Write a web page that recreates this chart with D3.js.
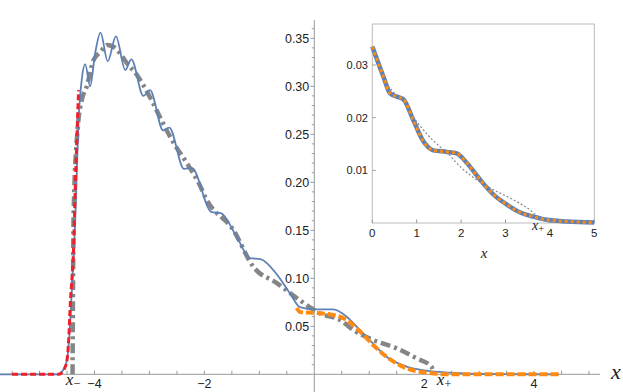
<!DOCTYPE html>
<html>
<head>
<meta charset="utf-8">
<script src="https://cdn.jsdelivr.net/npm/d3@7"></script>
<style>
  body { margin: 0; background: #fff; }
  text { font-family: "Liberation Sans", Arial, sans-serif; fill: #222; }
  .sym { font-family: "Liberation Serif", "DejaVu Serif", serif; font-style: italic; }
</style>
</head>
<body>
<div id="chart"></div>
<script>
// main plot: exact density (blue), mean-field (gray), edge asymptotics (red / orange)
const blueX = [-5.72, -4.68, -4.59, -4.50, -4.46, -4.41, -4.35, -4.29, -4.23, -4.17, -4.08, -3.99, -3.89,
  -3.76, -3.61, -3.44, -3.33, -3.11, -2.99, -2.75, -2.64, -2.37, -2.23, -1.87, -1.70, -1.41, -1.17,
  -0.98, -0.68, -0.44, -0.26, 0.0, 0.35, 0.59, 0.83, 1.07, 1.32, 1.68, 2.04, 2.47, 3.0, 4.45];
const blueY = [0, 0, 0.003, 0.015, 0.039, 0.091, 0.162, 0.265, 0.308, 0.323, 0.300, 0.334, 0.356,
  0.326, 0.352, 0.317, 0.328, 0.290, 0.296, 0.254, 0.257, 0.214, 0.215, 0.169, 0.168, 0.143, 0.121,
  0.120, 0.104, 0.084, 0.070, 0.0677, 0.0677, 0.060, 0.046, 0.032, 0.018, 0.008, 0.0038, 0.0017, 0.0003, 0];

const grayX = [-4.40, -4.39, -4.38, -4.30, -4.23, -4.14, -4.02, -3.89, -3.77, -3.65, -3.53, -3.41, -3.23,
  -3.11, -2.93, -2.81, -2.56, -2.32, -2.11, -1.96, -1.47, -1.11, -0.68, -0.26, 0.10, 0.47, 0.71, 1.07,
  1.50, 1.86, 2.13, 2.18];
const grayY = [0, 0.10, 0.168, 0.26, 0.286, 0.300, 0.327, 0.336, 0.343, 0.341, 0.334, 0.324, 0.312,
  0.301, 0.282, 0.268, 0.241, 0.220, 0.200, 0.182, 0.150, 0.112, 0.095, 0.077, 0.0635, 0.0566, 0.046,
  0.0357, 0.027, 0.0167, 0.008, 0];

const redX = [-5.50, -4.65, -4.56, -4.50, -4.47, -4.44, -4.38, -4.35, -4.32, -4.29];
const redY = [0, 0, 0.0045, 0.015, 0.036, 0.074, 0.133, 0.195, 0.2475, 0.296];

const orangeX = [-0.32, -0.26, 0.0, 0.35, 0.59, 0.83, 1.07, 1.32, 1.68, 2.04, 2.47, 4.50];
const orangeY = [0.069, 0.065, 0.064, 0.0618, 0.0566, 0.0448, 0.0305, 0.018, 0.0062, 0.0017, 0, 0];

const mainXTicks = [-4, -2, 2, 4];
const mainYTicks = [0.05, 0.10, 0.15, 0.20, 0.25, 0.30, 0.35];

// inset: right edge zoom
const insetX = [0, 0.25, 0.40, 0.55, 0.70, 0.92, 1.15, 1.37, 1.68, 1.90, 2.13, 2.43, 2.73, 3.03, 3.33,
  3.63, 3.93, 4.38, 5.0];
const insetY = [0.0335, 0.0278, 0.0246, 0.0240, 0.0235, 0.0196, 0.0155, 0.0138, 0.0135, 0.0132, 0.0114,
  0.0082, 0.0054, 0.0035, 0.0020, 0.0012, 0.0006, 0.0003, 0.0001];
const insetGrayX = [0, 0.30, 0.47, 0.70, 0.92, 1.22, 1.52, 1.70, 1.98, 2.35, 2.73, 3.18, 3.55, 3.74, 3.90,
  4.40, 5.0];
const insetGrayY = [0.033, 0.0268, 0.0249, 0.023, 0.0202, 0.017, 0.0145, 0.0132, 0.0107, 0.0082, 0.0063,
  0.0044, 0.0025, 0.0012, 0.0007, 0.0003, 0.0001];
const insetXTicks = [0, 1, 2, 3, 4, 5];
const insetYTicks = [0.01, 0.02, 0.03];

const width = 623, height = 392;
const svg = d3.select('#chart').append('svg')
  .attr('width', width).attr('height', height);

const x = d3.scaleLinear().domain([-5.72, 5.2]).range([0, 600]);
const y = d3.scaleLinear().domain([0, 0.35]).range([374.3, 38.3]);
const axisColor = '#999';

const zip = (xs, ys) => xs.map((v, i) => [v, ys[i]]);
const line = (sx, sy) => d3.line().x(d => sx(d[0])).y(d => sy(d[1])).curve(d3.curveMonotoneX);

// axes
svg.append('line').attr('x1', 0).attr('x2', 600).attr('y1', y(0)).attr('y2', y(0))
  .attr('stroke', axisColor);
svg.append('line').attr('x1', x(0)).attr('x2', x(0)).attr('y1', 20).attr('y2', height)
  .attr('stroke', axisColor);

// x ticks every 0.5
d3.range(-5.5, 5.01, 0.5).filter(v => v !== 0).forEach(v => {
  svg.append('line').attr('x1', x(v)).attr('x2', x(v)).attr('y1', y(0)).attr('y2', y(0) - 3.5)
    .attr('stroke', axisColor);
});
svg.selectAll('.xl').data(mainXTicks).enter().append('text')
  .attr('x', d => x(d)).attr('y', y(0) + 14).attr('text-anchor', 'middle')
  .attr('font-size', 12.5).text(d => d < 0 ? '\u2212' + Math.abs(d) : d);

// y ticks every 0.01
d3.range(0.01, 0.365, 0.01).forEach((v, i) => {
  const major = (i + 1) % 5 === 0;
  svg.append('line').attr('x1', x(0) - (major ? 4 : 2.5)).attr('x2', x(0))
    .attr('y1', y(v)).attr('y2', y(v)).attr('stroke', axisColor);
});
svg.selectAll('.yl').data(mainYTicks).enter().append('text')
  .attr('x', x(0) - 5).attr('y', d => y(d) + 4.3).attr('text-anchor', 'end')
  .attr('font-size', 12.5).text(d => d.toFixed(2));

// curves
svg.append('path').datum(zip(grayX, grayY)).attr('fill', 'none')
  .attr('stroke', '#858585').attr('stroke-width', 4.5).attr('stroke-dasharray', '10,4,3,4')
  .attr('d', line(x, y));
svg.append('path').datum(zip(blueX, blueY)).attr('fill', 'none')
  .attr('stroke', '#5e81b5').attr('stroke-width', 1.8).attr('d', line(x, y));
svg.append('path').datum(zip(redX, redY)).attr('fill', 'none')
  .attr('stroke', '#f0202a').attr('stroke-width', 3).attr('stroke-dasharray', '6,3')
  .attr('d', line(x, y));
svg.append('path').datum(zip(orangeX, orangeY)).attr('fill', 'none')
  .attr('stroke', '#ff8a12').attr('stroke-width', 4).attr('stroke-dasharray', '8,3')
  .attr('d', line(x, y));

// edge labels
function subLabel(g, px, py, sub, size) {
  const t = g.append('text').attr('x', px).attr('y', py).attr('text-anchor', 'middle')
    .attr('class', 'sym').attr('font-size', size);
  t.append('tspan').text('x');
  t.append('tspan').attr('dy', size * 0.15).attr('font-size', size * 0.75)
    .attr('font-style', 'normal').text(sub);
}
subLabel(svg, 73, 385, '\u2212', 17);
subLabel(svg, 444, 385, '+', 17);
svg.append('text').attr('class', 'sym').attr('x', 611).attr('y', 379)
  .attr('font-size', 22).text('x');

// inset
const xi = d3.scaleLinear().domain([0, 5]).range([372.3, 594.3]);
const yi = d3.scaleLinear().domain([0, 0.03]).range([223, 65]);
const inset = svg.append('g');
inset.append('rect').attr('x', 372.3).attr('y', 24).attr('width', 222).attr('height', 199)
  .attr('fill', '#fff').attr('stroke', '#bbb');
insetXTicks.forEach(v => {
  inset.append('line').attr('x1', xi(v)).attr('x2', xi(v)).attr('y1', 223).attr('y2', 219.5)
    .attr('stroke', '#999');
});
inset.selectAll('.ixl').data(insetXTicks).enter().append('text')
  .attr('x', d => xi(d)).attr('y', 237).attr('text-anchor', 'middle')
  .attr('font-size', 11.5).text(d => d);
insetYTicks.forEach(v => {
  inset.append('line').attr('x1', 372.3).attr('x2', 375.8).attr('y1', yi(v)).attr('y2', yi(v))
    .attr('stroke', '#999');
});
inset.selectAll('.iyl').data(insetYTicks).enter().append('text')
  .attr('x', 368).attr('y', d => yi(d) + 4).attr('text-anchor', 'end')
  .attr('font-size', 11).text(d => d.toFixed(2));

inset.append('path').datum(zip(insetGrayX, insetGrayY)).attr('fill', 'none')
  .attr('stroke', '#888').attr('stroke-width', 1.2).attr('stroke-dasharray', '2,2')
  .attr('d', line(xi, yi));
inset.append('path').datum(zip(insetX, insetY)).attr('fill', 'none')
  .attr('stroke', '#5e81b5').attr('stroke-width', 4.5).attr('d', line(xi, yi));
inset.append('path').datum(zip(insetX, insetY)).attr('fill', 'none')
  .attr('stroke', '#ff8a12').attr('stroke-width', 3).attr('stroke-dasharray', '3,3')
  .attr('d', line(xi, yi));

subLabel(inset, 538, 230, '+', 14);
inset.append('text').attr('class', 'sym').attr('x', 484).attr('y', 258)
  .attr('text-anchor', 'middle').attr('font-size', 15).text('x');
</script>
</body>
</html>
